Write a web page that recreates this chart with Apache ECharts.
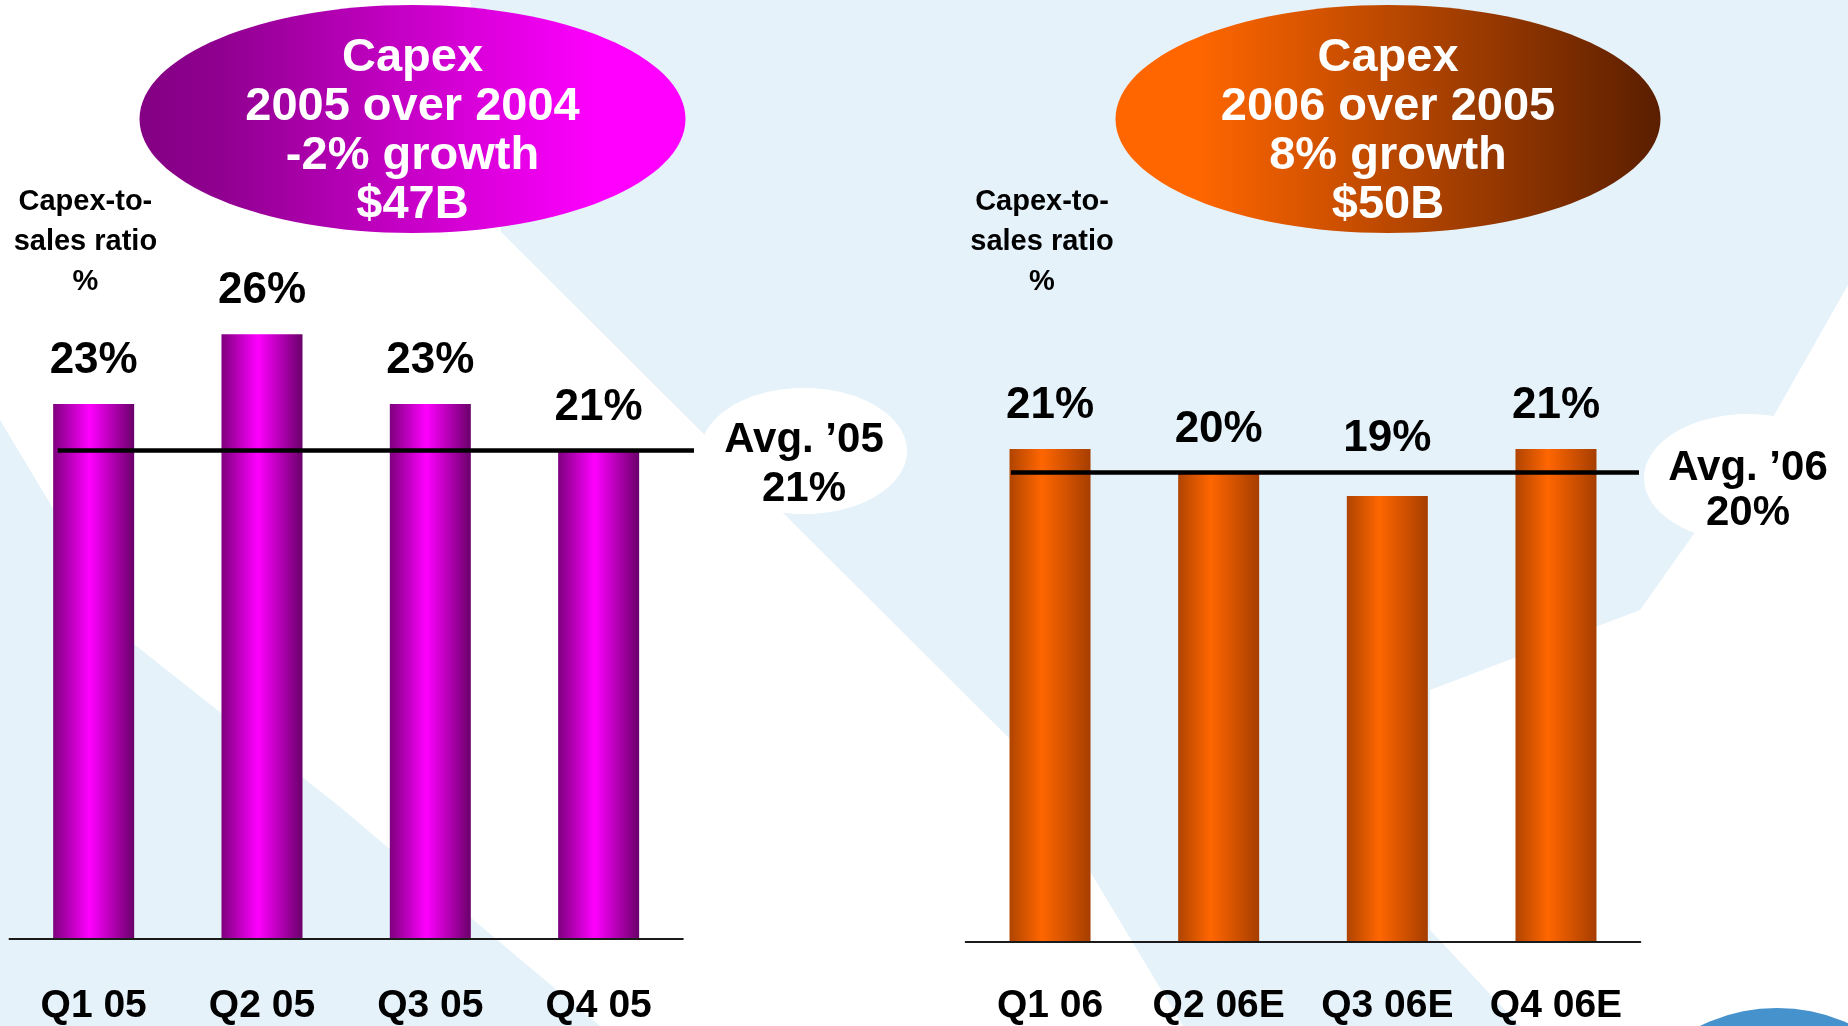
<!DOCTYPE html>
<html>
<head>
<meta charset="utf-8">
<title>Capex-to-sales ratio</title>
<script src="https://cdn.jsdelivr.net/npm/echarts@6.0.0/dist/echarts.min.js"></script>
<style>
  html, body { margin: 0; padding: 0; background: #e5f2fa; }
  #main { width: 1848px; height: 1026px; }
</style>
</head>
<body>
<div id="main"></div>
<script>
// values
const quarters05 = ['Q1 05', 'Q2 05', 'Q3 05', 'Q4 05'];
const ratio05 = [23, 26, 23, 21];
const avg05 = 21;
const quarters06 = ['Q1 06', 'Q2 06E', 'Q3 06E', 'Q4 06E'];
const ratio06 = [21, 20, 19, 21];
const avg06 = 20;
const bubble05 = ['Capex', '2005 over 2004', '-2% growth', '$47B'];
const bubble06 = ['Capex', '2006 over 2005', '8% growth', '$50B'];
const ratioTitle = ['Capex-to-', 'sales ratio', '%'];
const avgTitle05 = ['Avg. \u201905', avg05 + '%'];
const avgTitle06 = ['Avg. \u201906', avg06 + '%'];

const FONT = '"Liberation Sans", Arial, sans-serif';

let chart = echarts.init(document.getElementById('main'), null, { renderer: 'canvas' });

const purpleBar = new echarts.graphic.LinearGradient(0, 0, 1, 0, [
  { offset: 0, color: '#7e007e' },
  { offset: 0.45, color: '#ff00ff' },
  { offset: 1, color: '#6a006a' }
]);
const orangeBar = new echarts.graphic.LinearGradient(0, 0, 1, 0, [
  { offset: 0, color: '#b04400' },
  { offset: 0.4, color: '#ff6600' },
  { offset: 1, color: '#a63e00' }
]);

function textEl(lines, x, y, size, color, lh, z) {
  return {
    type: 'text',
    z: z,
    silent: true,
    style: {
      text: lines.join('\n'),
      x: x,
      y: y,
      fill: color,
      fontSize: size,
      fontWeight: 'bold',
      fontFamily: FONT,
      align: 'center',
      verticalAlign: 'middle',
      lineHeight: lh
    }
  };
}

function avgLine(val, x0, x1) {
  return {
    silent: true,
    symbol: ['none', 'none'],
    label: { show: false },
    lineStyle: { color: '#000000', width: 4.5, type: 'solid' },
    emphasis: { disabled: true },
    data: [[{ x: x0, yAxis: val }, { x: x1, yAxis: val }]]
  };
}

const option = {
  backgroundColor: '#e5f2fa',
  animation: false,
  grid: [
    { left: 9.5, top: 8.5, width: 673.3, height: 936.8 },
    { left: 965.7, top: 2.9, width: 674.6, height: 950.4 }
  ],
  xAxis: [
    {
      type: 'category', gridIndex: 0, data: quarters05, z: 5,
      axisLine: { lineStyle: { color: '#1a1a1a', width: 2 } },
      axisTick: { show: false },
      axisLabel: { interval: 0, margin: 48, fontSize: 39, fontWeight: 'bold', fontFamily: FONT, color: '#000' }
    },
    {
      type: 'category', gridIndex: 1, data: quarters06, z: 5,
      axisLine: { lineStyle: { color: '#1a1a1a', width: 2 } },
      axisTick: { show: false },
      axisLabel: { interval: 0, margin: 45, fontSize: 39, fontWeight: 'bold', fontFamily: FONT, color: '#000' }
    }
  ],
  yAxis: [
    { type: 'value', gridIndex: 0, min: 0, max: 40, show: false, splitLine: { show: false } },
    { type: 'value', gridIndex: 1, min: 0, max: 40, show: false, splitLine: { show: false } }
  ],
  series: [
    {
      type: 'bar', xAxisIndex: 0, yAxisIndex: 0, barWidth: 81,
      data: ratio05,
      itemStyle: { color: purpleBar },
      label: {
        show: true, position: 'top', distance: 21, formatter: '{c}%',
        fontSize: 44, fontWeight: 'bold', fontFamily: FONT, color: '#000'
      },
      markLine: avgLine(avg05, 57.7, 694)
    },
    {
      type: 'bar', xAxisIndex: 1, yAxisIndex: 1, barWidth: 81,
      data: ratio06.map(function (v, i) {
        return i === 2 ? { value: v, label: { distance: 35 } } : v;
      }),
      itemStyle: { color: orangeBar },
      label: {
        show: true, position: 'top', distance: 21, formatter: '{c}%',
        fontSize: 44, fontWeight: 'bold', fontFamily: FONT, color: '#000'
      },
      markLine: avgLine(avg06, 1011, 1639)
    }
  ],
  graphic: [
    // light beams in the background
    {
      type: 'polygon', z: -10, silent: true,
      shape: { points: [[0, 0], [470, 0], [501, 232], [1011, 740], [1183, 1026], [600, 1026], [515, 955], [340, 807], [135, 645], [0, 420]] },
      style: { fill: '#ffffff' }
    },
    {
      type: 'polygon', z: -10, silent: true,
      shape: { points: [[1848, 285], [1848, 1026], [1520, 1026], [1430, 930], [1430, 690], [1640, 610], [1760, 440]] },
      style: { fill: '#ffffff' }
    },
    // globe peeking in bottom right
    {
      type: 'circle', z: -9, silent: true,
      shape: { cx: 1777, cy: 1182, r: 174 },
      style: { fill: '#4592cd' }
    },
    // header bubbles
    {
      type: 'ellipse', z: 10, silent: true,
      shape: { cx: 412.5, cy: 119, rx: 273, ry: 114 },
      style: {
        fill: new echarts.graphic.LinearGradient(0, 0, 1, 0, [
          { offset: 0, color: '#830083' },
          { offset: 0.15, color: '#900090' },
          { offset: 0.85, color: '#ff00ff' },
          { offset: 1, color: '#ff00ff' }
        ])
      }
    },
    {
      type: 'ellipse', z: 10, silent: true,
      shape: { cx: 1388, cy: 119, rx: 272.5, ry: 114 },
      style: {
        fill: new echarts.graphic.LinearGradient(0, 0, 1, 0, [
          { offset: 0, color: '#ff6600' },
          { offset: 0.15, color: '#ff6600' },
          { offset: 1, color: '#5a1e00' }
        ])
      }
    },
    textEl(bubble05, 412.5, 131.5, 47, '#ffffff', 48.7, 11),
    textEl(bubble06, 1388, 131.5, 47, '#ffffff', 48.7, 11),
    // axis titles
    textEl(ratioTitle, 85.4, 241.5, 29, '#000000', 40, 11),
    textEl(ratioTitle, 1042, 241.5, 29, '#000000', 40, 11),
    // average bubbles
    {
      type: 'ellipse', z: 1, silent: true,
      shape: { cx: 804, cy: 451, rx: 103, ry: 63 },
      style: { fill: '#ffffff' }
    },
    {
      type: 'ellipse', z: 1, silent: true,
      shape: { cx: 1748, cy: 478, rx: 104, ry: 64 },
      style: { fill: '#ffffff' }
    },
    textEl(avgTitle05, 804, 464.5, 42, '#000000', 49, 11),
    textEl(avgTitle06, 1748, 490.5, 42, '#000000', 45, 11)
  ]
};

chart.setOption(option);
</script>
</body>
</html>
